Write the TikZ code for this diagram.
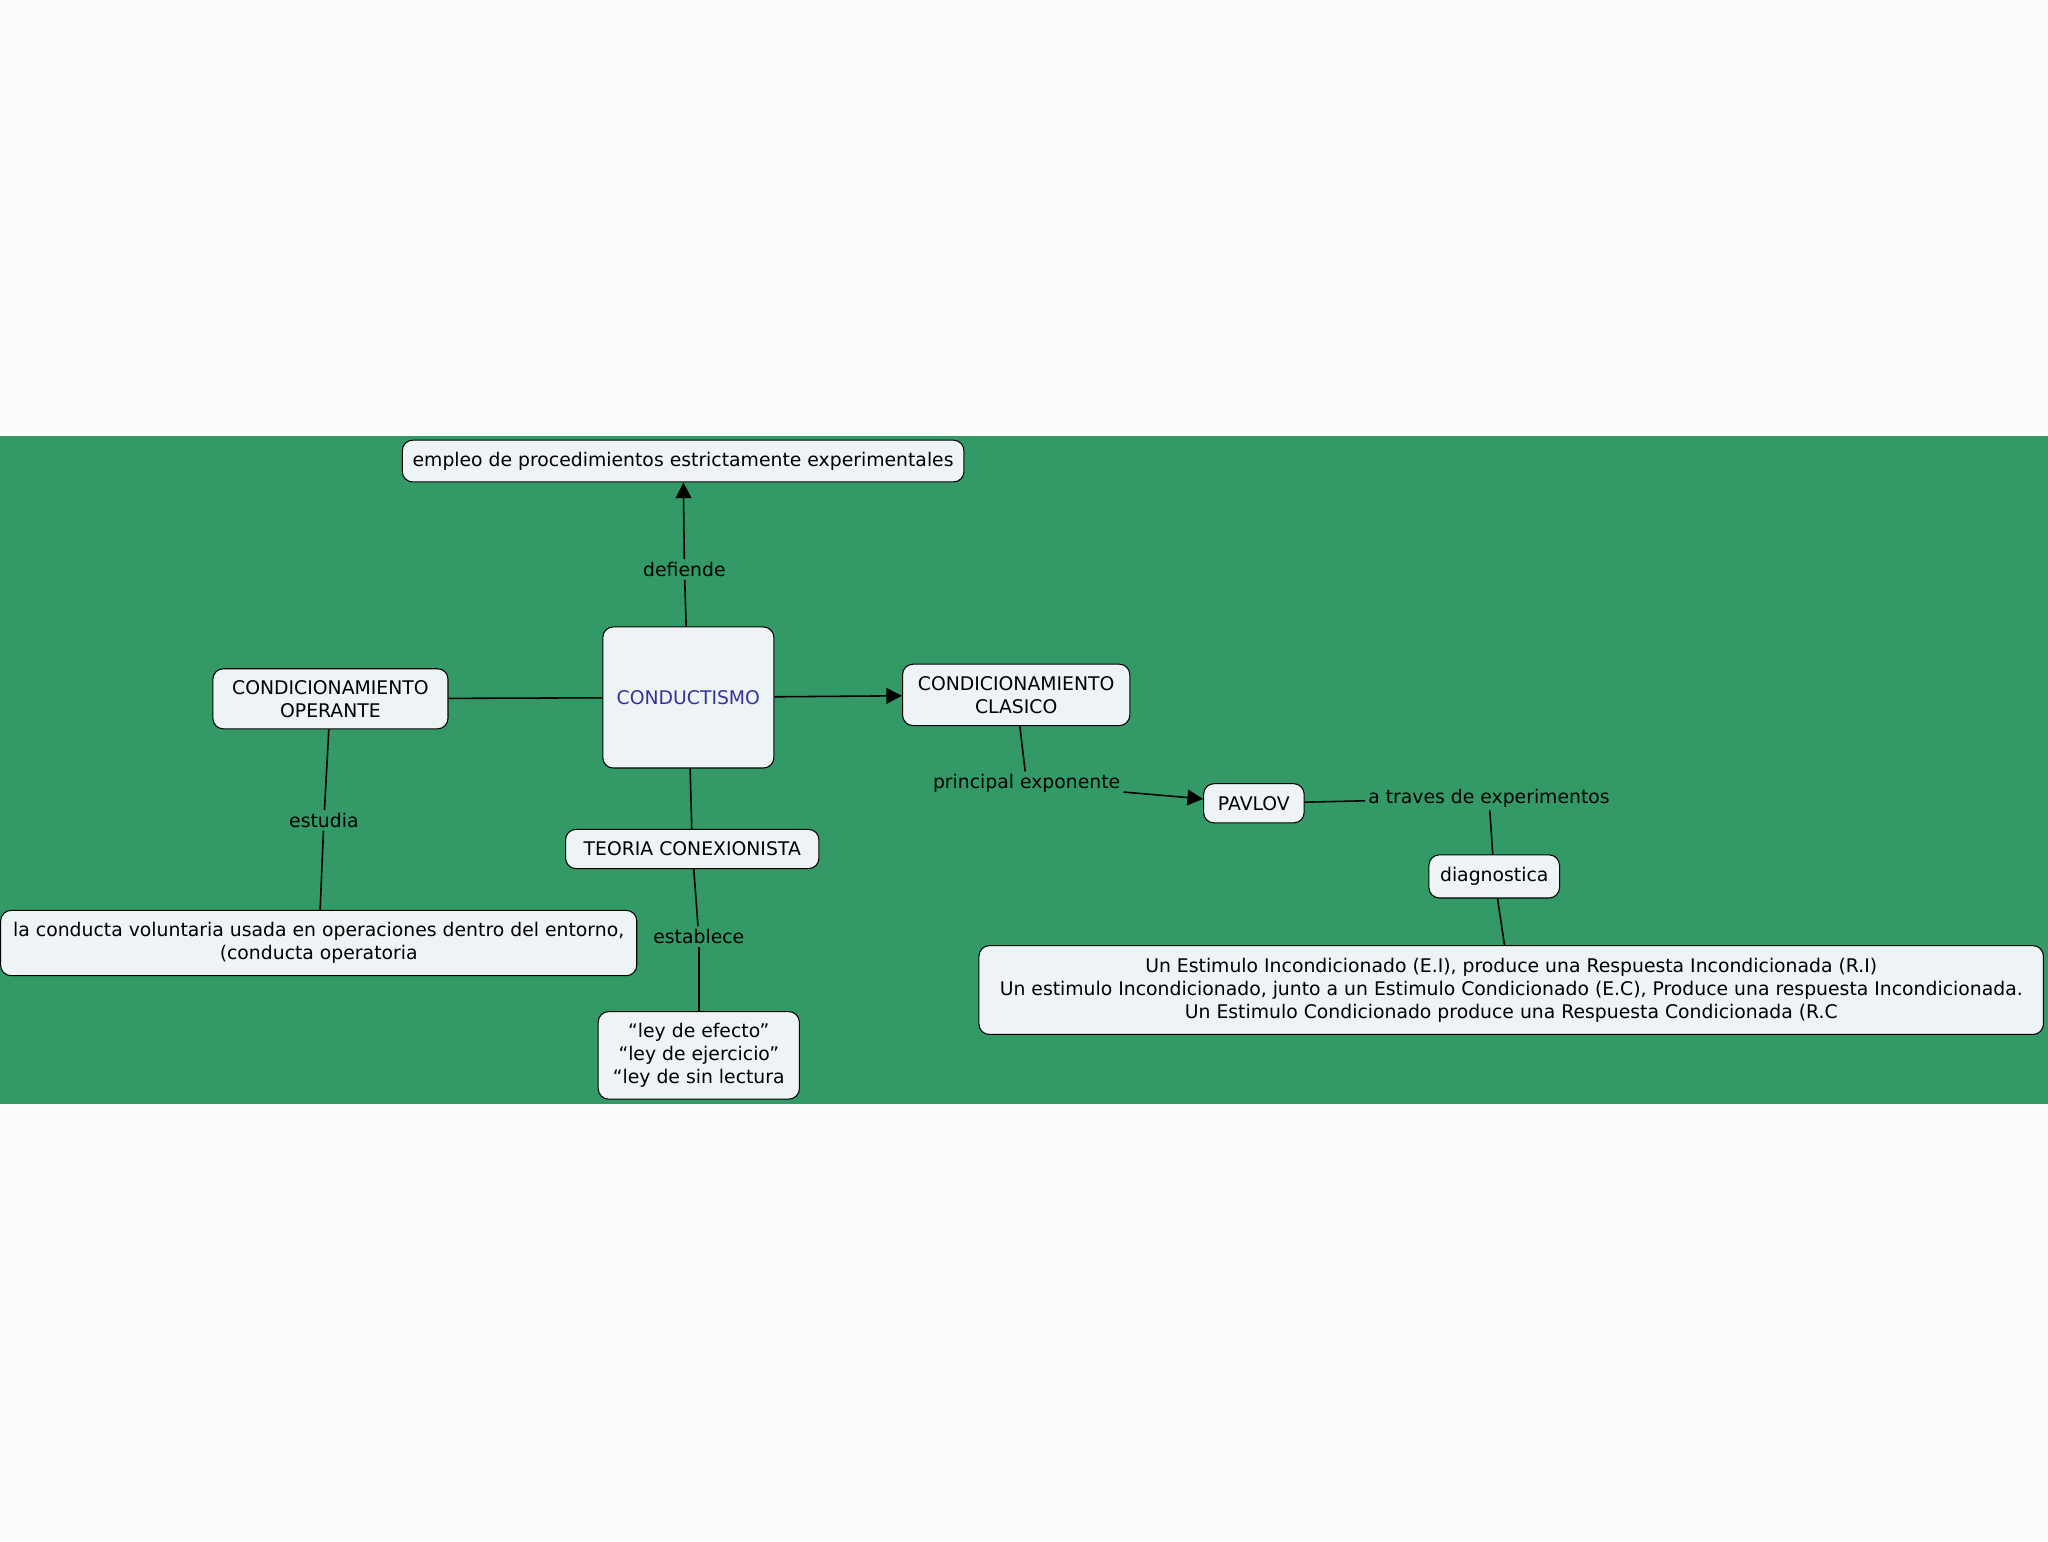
\documentclass[tikz,border=0pt]{standalone}
\usepackage{fontspec}
\setmainfont{DejaVu Sans}
\usetikzlibrary{arrows.meta}
\definecolor{bandgreen}{HTML}{339966}
\definecolor{boxfill}{HTML}{EEF3F5}
\definecolor{titleblue}{HTML}{333399}
\begin{document}
\begin{tikzpicture}[x=0.5pt,y=-0.5pt,
  box/.style={draw=black,fill=boxfill,rounded corners=4pt,align=center,font=\fontsize{7.2}{8.8}\selectfont,inner sep=0pt},
  lbl/.style={font=\fontsize{7.2}{8.8}\selectfont,inner sep=1pt},
  conn/.style={draw=black,line width=0.6pt},
  arr/.style={conn,-{Triangle[length=6pt,width=6pt]}}]
\useasboundingbox (0,0) rectangle (1568,1180);
\fill[white!99!black] (0,0) rectangle (1568,1180);
\fill[bandgreen] (0,334) rectangle (1568,845);
\node[box,minimum width=215pt,minimum height=16pt] (emp) at (523,353) {empleo de procedimientos estrictamente experimentales};
\node[lbl] (def) at (524,436) {defiende};
\node[box,minimum width=65.5pt,minimum height=54pt,text=titleblue] (con) at (527,534) {CONDUCTISMO};
\node[box,minimum width=90pt,minimum height=23pt] (ope) at (253,535) {CONDICIONAMIENTO\\OPERANTE};
\node[box,minimum width=87pt,minimum height=23.5pt] (cla) at (778,532) {CONDICIONAMIENTO\\CLASICO};
\node[lbl] (est) at (248,628) {estudia};
\node[box,minimum width=243.5pt,minimum height=25pt] (lac) at (244,722) {la conducta voluntaria usada en operaciones dentro del entorno,\\(conducta operatoria};
\node[box,minimum width=97pt,minimum height=15pt] (teo) at (530,650) {TEORIA CONEXIONISTA};
\node[lbl] (esb) at (535,717) {establece};
\node[box,minimum width=77pt,minimum height=33.5pt] (ley) at (535,808) {“ley de efecto”\\ “ley de ejercicio”\\ “ley de sin lectura};
\node[lbl] (pri) at (786,600) {principal exponente};
\node[box,minimum width=38.5pt,minimum height=15pt] (pav) at (960,615) {PAVLOV};
\node[lbl] (atr) at (1140,611) {a traves de experimentos};
\node[box,minimum width=50pt,minimum height=16.5pt] (dia) at (1144,671) {diagnostica};
\node[box,minimum width=407.5pt,minimum height=34pt] (une) at (1157,758) {Un Estimulo Incondicionado (E.I), produce una Respuesta Incondicionada (R.I)\\Un estimulo Incondicionado, junto a un Estimulo Condicionado (E.C), Produce una respuesta Incondicionada.\\Un Estimulo Condicionado produce una Respuesta Condicionada (R.C};
\draw[conn] (con) -- (def);
\draw[arr] (def) -- (emp);
\draw[conn] (ope) -- (con);
\draw[arr] (con) -- (cla);
\draw[conn] (con) -- (teo);
\draw[conn] (ope) -- (est);
\draw[conn] (est) -- (lac);
\draw[conn] (teo) -- (esb);
\draw[conn] (esb) -- (ley);
\draw[conn] (cla) -- (pri);
\draw[arr] (pri) -- (pav);
\draw[conn] (pav) -- (atr);
\draw[conn] (atr) -- (dia);
\draw[conn] (dia) -- (une);
\end{tikzpicture}
\end{document}
